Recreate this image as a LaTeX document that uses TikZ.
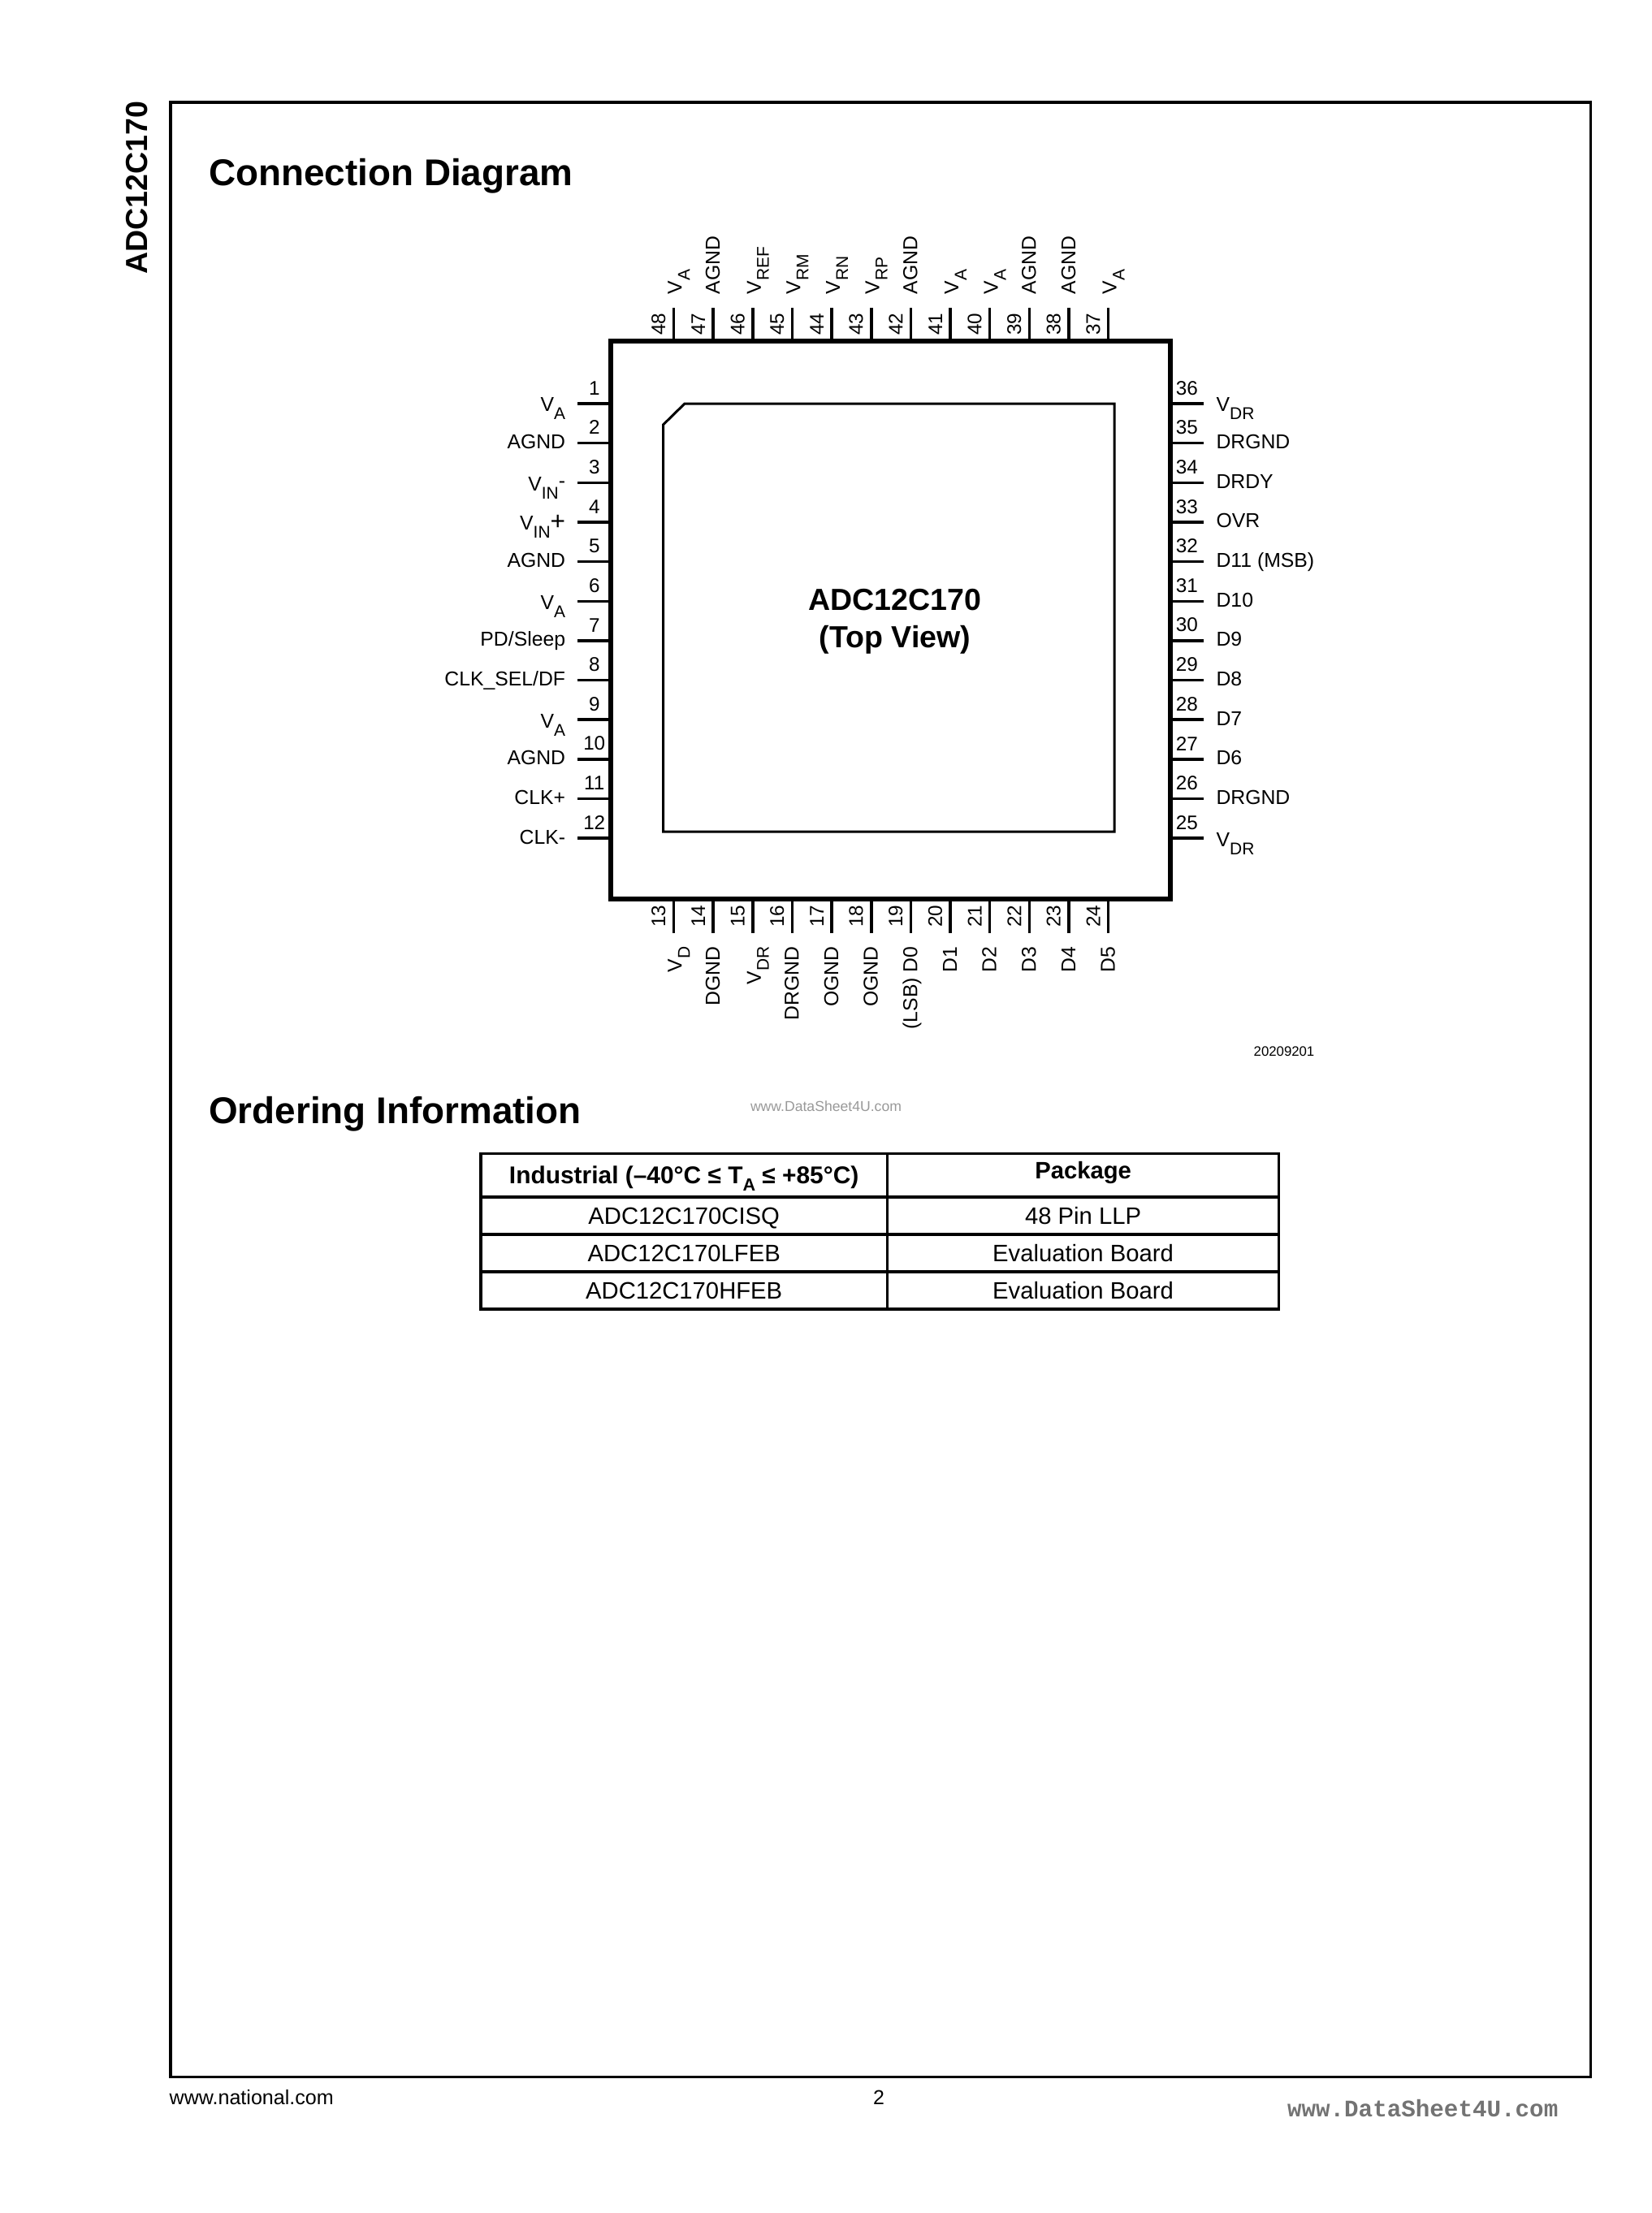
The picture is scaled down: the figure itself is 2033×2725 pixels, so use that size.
\documentclass[tikz,border=0pt]{standalone}
\usepackage{fontspec}
\setmainfont{Liberation Sans}
\newfontfamily\markfont{Liberation Mono}
\usetikzlibrary{positioning}
\definecolor{markgray}{gray}{0.45}
\definecolor{marklight}{gray}{0.6}
\newcommand{\vsub}[1]{V\raisebox{-3pt}{\fontsize{6.3}{6.3}\selectfont #1}}
\newcommand{\sz}[1]{\fontsize{#1}{#1}\selectfont}

\begin{document}
\begin{tikzpicture}[x=0.301pt,y=-0.301pt,node distance=14.644pt,
		every node/.style={font=\sz{7.45}}]
		\tikzstyle{pad}=[inner sep=0pt,outer sep=0pt,minimum size=0pt]
		\tikzstyle{pinline}=[line width=1.05pt]
		\tikzstyle{hnum}=[above,inner sep=2.7pt,font=\sz{7.3}]
		\tikzstyle{tnum}=[rotate=90,anchor=south,inner sep=2.5pt,font=\sz{7.3}]
		\tikzstyle{leftlab}=[anchor=base east,inner sep=0pt,yshift=-2.1pt]
		\tikzstyle{leftv}=[anchor=base east,inner sep=0pt,yshift=-3pt]
		\tikzstyle{rightlab}=[anchor=base west,inner sep=0pt,yshift=-2.1pt]
		\tikzstyle{rightv}=[anchor=base west,inner sep=0pt,yshift=-3pt]
		\tikzstyle{toplab}=[rotate=90,anchor=base west,inner sep=0pt,yshift=-2.4pt]
		\tikzstyle{topv}=[rotate=90,anchor=base west,inner sep=0pt,yshift=-3pt]
		\tikzstyle{botlab}=[rotate=90,anchor=base east,inner sep=0pt,yshift=-2.4pt]
		\tikzstyle{botv}=[rotate=90,anchor=base east,inner sep=0pt,yshift=-3pt]
		\tikzstyle{heading}=[anchor=base west,inner sep=0pt,font=\sz{13.8}\bfseries]
		\tikzstyle{cell}=[draw,line width=1pt,inner sep=0pt,outer sep=0pt,text height=6.4pt,text depth=0pt,font=\sz{8.8}]
		\tikzstyle{cella}=[cell,minimum width=150.7pt,minimum height=13.85pt]
		\tikzstyle{cellb}=[cell,minimum width=145.1pt,minimum height=13.85pt]
		
		\useasboundingbox (0,0) rectangle (2033,2725);
		\node[draw,line width=1pt,inner sep=0pt,minimum width=526.2pt,minimum height=731.8pt] (frame) at (1084.2,1341.5) {};
		\node[rotate=90,anchor=base west,inner sep=0pt,font=\sz{11.3}\bfseries] (side) at (181,338.5) {ADC12C170};
		\node[heading] (conn) at (256.5,228) {Connection Diagram};
		
		% package and die
		\node[draw,line width=1.8pt,inner sep=0pt,outer sep=0pt,minimum width=207.1pt,minimum height=206.8pt] (chip) at (1096.5,763.5) {};
		\draw[line width=0.9pt] (843,497) -- (1372,497) -- (1372,1024) -- (816.5,1024) -- (816.5,523) -- cycle;
		\node[align=center,inner sep=0pt,font=\sz{11.3}\bfseries] (title) at (1102,765) {ADC12C170\\[2.6pt](Top View)};
		
		% left pads
		\node[pad] (l1) at (711,497) {};
		\node[pad] (l2) [below of=l1] {};
		\node[pad] (l3) [below of=l2] {};
		\node[pad] (l4) [below of=l3] {};
		\node[pad] (l5) [below of=l4] {};
		\node[pad] (l6) [below of=l5] {};
		\node[pad] (l7) [below of=l6] {};
		\node[pad] (l8) [below of=l7] {};
		\node[pad] (l9) [below of=l8] {};
		\node[pad] (l10) [below of=l9] {};
		\node[pad] (l11) [below of=l10] {};
		\node[pad] (l12) [below of=l11] {};
		
		% right pads
		\node[pad] (r36) at (1482,497) {};
		\node[pad] (r35) [below of=r36] {};
		\node[pad] (r34) [below of=r35] {};
		\node[pad] (r33) [below of=r34] {};
		\node[pad] (r32) [below of=r33] {};
		\node[pad] (r31) [below of=r32] {};
		\node[pad] (r30) [below of=r31] {};
		\node[pad] (r29) [below of=r30] {};
		\node[pad] (r28) [below of=r29] {};
		\node[pad] (r27) [below of=r28] {};
		\node[pad] (r26) [below of=r27] {};
		\node[pad] (r25) [below of=r26] {};
		
		% top pads
		\node[pad] (t48) at (829.5,379) {};
		\node[pad] (t47) [right of=t48] {};
		\node[pad] (t46) [right of=t47] {};
		\node[pad] (t45) [right of=t46] {};
		\node[pad] (t44) [right of=t45] {};
		\node[pad] (t43) [right of=t44] {};
		\node[pad] (t42) [right of=t43] {};
		\node[pad] (t41) [right of=t42] {};
		\node[pad] (t40) [right of=t41] {};
		\node[pad] (t39) [right of=t40] {};
		\node[pad] (t38) [right of=t39] {};
		\node[pad] (t37) [right of=t38] {};
		
		% bottom pads
		\node[pad] (b13) at (829.5,1149) {};
		\node[pad] (b14) [right of=b13] {};
		\node[pad] (b15) [right of=b14] {};
		\node[pad] (b16) [right of=b15] {};
		\node[pad] (b17) [right of=b16] {};
		\node[pad] (b18) [right of=b17] {};
		\node[pad] (b19) [right of=b18] {};
		\node[pad] (b20) [right of=b19] {};
		\node[pad] (b21) [right of=b20] {};
		\node[pad] (b22) [right of=b21] {};
		\node[pad] (b23) [right of=b22] {};
		\node[pad] (b24) [right of=b23] {};
		
		\path[pinline] (l1) edge node[hnum] (n1) {1} (chip.west |- l1)
		(l2) edge node[hnum] (n2) {2} (chip.west |- l2)
		(l3) edge node[hnum] (n3) {3} (chip.west |- l3)
		(l4) edge node[hnum] (n4) {4} (chip.west |- l4)
		(l5) edge node[hnum] (n5) {5} (chip.west |- l5)
		(l6) edge node[hnum] (n6) {6} (chip.west |- l6)
		(l7) edge node[hnum] (n7) {7} (chip.west |- l7)
		(l8) edge node[hnum] (n8) {8} (chip.west |- l8)
		(l9) edge node[hnum] (n9) {9} (chip.west |- l9)
		(l10) edge node[hnum] (n10) {10} (chip.west |- l10)
		(l11) edge node[hnum] (n11) {11} (chip.west |- l11)
		(l12) edge node[hnum] (n12) {12} (chip.west |- l12)
		
		(r36) edge node[hnum] (n36) {36} (chip.east |- r36)
		(r35) edge node[hnum] (n35) {35} (chip.east |- r35)
		(r34) edge node[hnum] (n34) {34} (chip.east |- r34)
		(r33) edge node[hnum] (n33) {33} (chip.east |- r33)
		(r32) edge node[hnum] (n32) {32} (chip.east |- r32)
		(r31) edge node[hnum] (n31) {31} (chip.east |- r31)
		(r30) edge node[hnum] (n30) {30} (chip.east |- r30)
		(r29) edge node[hnum] (n29) {29} (chip.east |- r29)
		(r28) edge node[hnum] (n28) {28} (chip.east |- r28)
		(r27) edge node[hnum] (n27) {27} (chip.east |- r27)
		(r26) edge node[hnum] (n26) {26} (chip.east |- r26)
		(r25) edge node[hnum] (n25) {25} (chip.east |- r25)
		
		(t48) edge node[tnum] (n48) {48} (chip.north -| t48)
		(t47) edge node[tnum] (n47) {47} (chip.north -| t47)
		(t46) edge node[tnum] (n46) {46} (chip.north -| t46)
		(t45) edge node[tnum] (n45) {45} (chip.north -| t45)
		(t44) edge node[tnum] (n44) {44} (chip.north -| t44)
		(t43) edge node[tnum] (n43) {43} (chip.north -| t43)
		(t42) edge node[tnum] (n42) {42} (chip.north -| t42)
		(t41) edge node[tnum] (n41) {41} (chip.north -| t41)
		(t40) edge node[tnum] (n40) {40} (chip.north -| t40)
		(t39) edge node[tnum] (n39) {39} (chip.north -| t39)
		(t38) edge node[tnum] (n38) {38} (chip.north -| t38)
		(t37) edge node[tnum] (n37) {37} (chip.north -| t37)
		
		(b13) edge node[tnum] (n13) {13} (chip.south -| b13)
		(b14) edge node[tnum] (n14) {14} (chip.south -| b14)
		(b15) edge node[tnum] (n15) {15} (chip.south -| b15)
		(b16) edge node[tnum] (n16) {16} (chip.south -| b16)
		(b17) edge node[tnum] (n17) {17} (chip.south -| b17)
		(b18) edge node[tnum] (n18) {18} (chip.south -| b18)
		(b19) edge node[tnum] (n19) {19} (chip.south -| b19)
		(b20) edge node[tnum] (n20) {20} (chip.south -| b20)
		(b21) edge node[tnum] (n21) {21} (chip.south -| b21)
		(b22) edge node[tnum] (n22) {22} (chip.south -| b22)
		(b23) edge node[tnum] (n23) {23} (chip.south -| b23)
		(b24) edge node[tnum] (n24) {24} (chip.south -| b24);
		
		% left names
		\node[left=4.3pt of l1,leftv] (la1) {\vsub{A}};
		\node[left=4.3pt of l2,leftlab] (la2) {AGND};
		\node[left=4.3pt of l3,leftv] (la3) {\vsub{IN}\raisebox{1pt}{-}};
		\node[left=4.3pt of l4,leftv] (la4) {\vsub{IN}{\sz{9.5}+}};
		\node[left=4.3pt of l5,leftlab] (la5) {AGND};
		\node[left=4.3pt of l6,leftv] (la6) {\vsub{A}};
		\node[left=4.3pt of l7,leftlab] (la7) {PD/Sleep};
		\node[left=4.3pt of l8,leftlab] (la8) {CLK\_SEL/DF};
		\node[left=4.3pt of l9,leftv] (la9) {\vsub{A}};
		\node[left=4.3pt of l10,leftlab] (la10) {AGND};
		\node[left=4.3pt of l11,leftlab] (la11) {CLK+};
		\node[left=4.3pt of l12,leftlab] (la12) {CLK-};
		
		% right names
		\node[right=4.5pt of r36,rightv] (la36) {\vsub{DR}};
		\node[right=4.5pt of r35,rightlab] (la35) {DRGND};
		\node[right=4.5pt of r34,rightlab] (la34) {DRDY};
		\node[right=4.5pt of r33,rightlab] (la33) {OVR};
		\node[right=4.5pt of r32,rightlab] (la32) {D11 (MSB)};
		\node[right=4.5pt of r31,rightlab] (la31) {D10};
		\node[right=4.5pt of r30,rightlab] (la30) {D9};
		\node[right=4.5pt of r29,rightlab] (la29) {D8};
		\node[right=4.5pt of r28,rightlab] (la28) {D7};
		\node[right=4.5pt of r27,rightlab] (la27) {D6};
		\node[right=4.5pt of r26,rightlab] (la26) {DRGND};
		\node[right=4.5pt of r25,rightv] (la25) {\vsub{DR}};
		
		% top names
		\node[above=4.8pt of t48,topv] (la48) {\vsub{A}};
		\node[above=4.8pt of t47,toplab] (la47) {AGND};
		\node[above=4.8pt of t46,topv] (la46) {\vsub{REF}};
		\node[above=4.8pt of t45,topv] (la45) {\vsub{RM}};
		\node[above=4.8pt of t44,topv] (la44) {\vsub{RN}};
		\node[above=4.8pt of t43,topv] (la43) {\vsub{RP}};
		\node[above=4.8pt of t42,toplab] (la42) {AGND};
		\node[above=4.8pt of t41,topv] (la41) {\vsub{A}};
		\node[above=4.8pt of t40,topv] (la40) {\vsub{A}};
		\node[above=4.8pt of t39,toplab] (la39) {AGND};
		\node[above=4.8pt of t38,toplab] (la38) {AGND};
		\node[above=4.8pt of t37,topv] (la37) {\vsub{A}};
		
		% bottom names
		\node[below=4.8pt of b13,botv] (la13) {\vsub{D}};
		\node[below=4.8pt of b14,botlab] (la14) {DGND};
		\node[below=4.8pt of b15,botv] (la15) {\vsub{DR}};
		\node[below=4.8pt of b16,botlab] (la16) {DRGND};
		\node[below=4.8pt of b17,botlab] (la17) {OGND};
		\node[below=4.8pt of b18,botlab] (la18) {OGND};
		\node[below=4.8pt of b19,botlab] (la19) {(LSB) D0};
		\node[below=4.8pt of b20,botlab] (la20) {D1};
		\node[below=4.8pt of b21,botlab] (la21) {D2};
		\node[below=4.8pt of b22,botlab] (la22) {D3};
		\node[below=4.8pt of b23,botlab] (la23) {D4};
		\node[below=4.8pt of b24,botlab] (la24) {D5};
		
		\node[anchor=base east,inner sep=0pt,font=\sz{5.05}] (fig) at (1619,1300) {20209201};
		
		% ordering table
		\node[heading] (order) at (256.5,1383) {Ordering Information};
		\node[anchor=base,inner sep=0pt,font=\sz{5.3},text=marklight] (mark) at (1017,1368) {www.DataSheet4U.com};
		\node[cella,minimum height=16pt,font=\sz{9}\bfseries] (h1) at (842.2,1447.3) {Industrial (–40°C ≤ T\raisebox{-2.5pt}{\sz{6.5}A} ≤ +85°C)};
		\node[cellb,minimum height=16pt,font=\sz{8.8}\bfseries] (h2) [right=0pt of h1] {\raisebox{1.8pt}{Package}};
		\node[cella] (c1) at (842.2,1497) {ADC12C170CISQ};
		\node[cellb] (d1) [right=0pt of c1] {48 Pin LLP};
		\node[cella] (c2) [below of=c1,node distance=13.85pt] {ADC12C170LFEB};
		\node[cellb] (d2) [right=0pt of c2] {Evaluation Board};
		\node[cella] (c3) [below of=c2,node distance=13.85pt] {ADC12C170HFEB};
		\node[cellb] (d3) [right=0pt of c3] {Evaluation Board};
		
		% footer
		\node[anchor=base west,inner sep=0pt,font=\sz{7.55}] (web) at (208,2591) {www.national.com};
		\node[anchor=base,inner sep=0pt,font=\sz{7.5}] (page) at (1082,2591) {2};
		\node[anchor=base east,inner sep=0pt,font=\markfont\sz{8.8}\bfseries,text=markgray] (mark2) at (1919,2606) {www.DataSheet4U.com};
		\end{tikzpicture}
\end{document}
